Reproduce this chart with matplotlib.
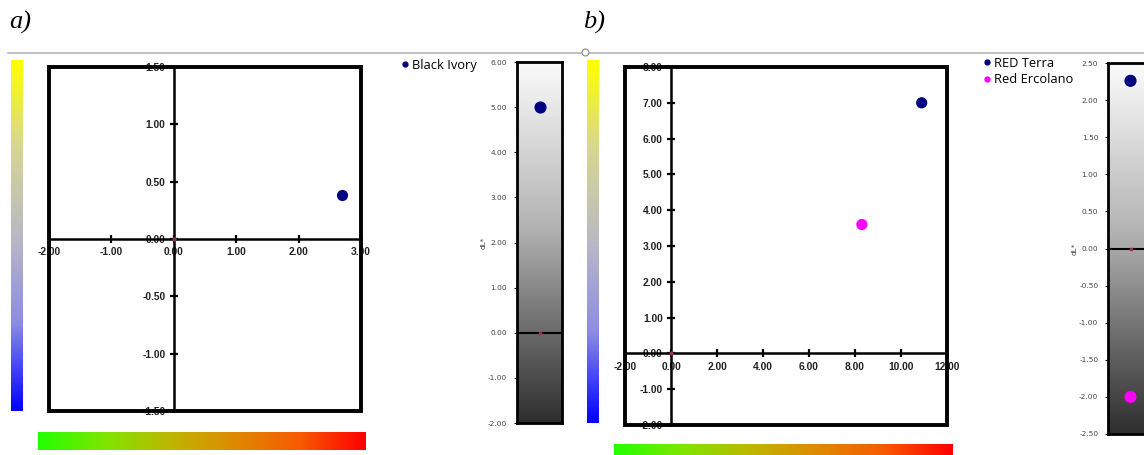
import numpy as np
import matplotlib
matplotlib.use('Agg')
import matplotlib.pyplot as plt
from matplotlib.colors import LinearSegmentedColormap
from matplotlib.patches import Rectangle
from matplotlib.lines import Line2D

# ---------------- data ----------------
# panel a
a_series = ['Black Ivory']
a_da = [2.70]
a_db = [0.38]
a_dL = [5.0]
a_colors = ['#000080']
a_xticks = [-2.0, -1.0, 0.0, 1.0, 2.0, 3.0]
a_yticks = [-1.5, -1.0, -0.5, 0.0, 0.5, 1.0, 1.5]
a_Lticks = [-2.0, -1.0, 0.0, 1.0, 2.0, 3.0, 4.0, 5.0, 6.0]

# panel b
b_series = ['RED Terra', 'Red Ercolano']
b_da = [10.9, 8.3]
b_db = [7.0, 3.6]
b_dL = [2.26, -2.0]
b_colors = ['#000080', '#FF00FF']
b_xticks = [-2.0, 0.0, 2.0, 4.0, 6.0, 8.0, 10.0, 12.0]
b_yticks = [-2.0, -1.0, 0.0, 1.0, 2.0, 3.0, 4.0, 5.0, 6.0, 7.0, 8.0]
b_Lticks = [-2.5, -2.0, -1.5, -1.0, -0.5, 0.0, 0.5, 1.0, 1.5, 2.0, 2.5]

panel_labels = ['a)', 'b)']

# ---------------- figure ----------------
W, H = 1144, 455
fig = plt.figure(figsize=(W / 100, H / 100), dpi=100)
fig.patch.set_facecolor('white')


def ax_px(x0, y0, x1, y1):
    return fig.add_axes([x0 / W, 1 - y1 / H, (x1 - x0) / W, (y1 - y0) / H])


def main_axes(rect, da, db, colors, xt, yt):
    ax = ax_px(*rect)
    ax.set_xlim(xt[0], xt[-1])
    ax.set_ylim(yt[0], yt[-1])
    for s in ['top', 'right']:
        ax.spines[s].set_visible(False)
    ax.spines['left'].set_position(('data', 0))
    ax.spines['bottom'].set_position(('data', 0))
    ax.spines['left'].set_linewidth(1.8)
    ax.spines['bottom'].set_linewidth(1.8)
    ax.add_patch(Rectangle((0, 0), 1, 1, transform=ax.transAxes, fill=False,
                           lw=2.8, ec='black', clip_on=False, zorder=5))
    ax.set_xticks(xt)
    ax.set_yticks(yt)
    ax.set_xticklabels([f'{v:.2f}' for v in xt])
    ax.set_yticklabels([f'{v:.2f}' for v in yt])
    ax.tick_params(direction='inout', length=6, width=1.6, labelsize=7.4, pad=3)
    for lab in ax.get_xticklabels() + ax.get_yticklabels():
        lab.set_fontweight('bold')
        lab.set_family('Liberation Sans')
        lab.set_color('#222222')
    ax.scatter(da, db, c=colors, s=50, zorder=6)
    ax.plot(0, 0, 'o', ms=2, color='#a0304a', zorder=7)
    return ax


def grad_bar(rect, cols, vertical):
    ax = ax_px(*rect)
    cmap = LinearSegmentedColormap.from_list('g', cols)
    g = np.linspace(0, 1, 256)
    arr = g[:, None] if vertical else g[None, :]
    ax.imshow(arr, cmap=cmap, aspect='auto', origin='lower')
    ax.axis('off')
    return ax


def L_axes(rect, vals, colors, ticks):
    ax = ax_px(*rect)
    ax.set_xlim(0, 1)
    ax.set_ylim(ticks[0], ticks[-1])
    cmap = LinearSegmentedColormap.from_list(
        'L', [(0.0, '#2e2e2e'), (0.3, '#767676'), (0.55, '#b4b4b4'), (1.0, '#fbfbfb')])
    ax.imshow(np.linspace(0, 1, 256)[:, None], cmap=cmap, aspect='auto', origin='lower',
              extent=[0, 1, ticks[0], ticks[-1]], zorder=0)
    ax.axhline(0, color='black', lw=1.5, zorder=2)
    ax.scatter([0.5] * len(vals), vals, c=colors, s=60, zorder=5, clip_on=False)
    ax.plot(0.5, 0, 'o', ms=1.6, color='#a0304a', zorder=6)
    ax.set_xticks([])
    ax.set_yticks(ticks)
    ax.set_yticklabels([f'{v:.2f}' for v in ticks])
    ax.tick_params(axis='y', length=2, width=0.8, labelsize=5.3, labelcolor='#444444', pad=5)
    for s in ax.spines.values():
        s.set_linewidth(2)
    ax.set_ylabel('dL*', fontsize=5.3, color='#444444', labelpad=1)
    return ax


side_cols = ['#0000ff', '#8c8ce6', '#b9b9c4', '#d6d694', '#ffff00']
bottom_cols = ['#22ff00', '#7ee600', '#bdb700', '#de8a00', '#f75a00', '#ff0000']

# panel a
grad_bar((11, 60, 23, 411), side_cols, True)
main_axes((49, 67, 361, 411), a_da, a_db, a_colors, a_xticks, a_yticks)
grad_bar((38, 432, 366, 450), bottom_cols, False)
La = L_axes((517, 62, 562, 423), a_dL, a_colors, a_Lticks)

# panel b
grad_bar((587, 60, 599, 423), side_cols, True)
main_axes((625, 67, 947, 425), b_da, b_db, b_colors, b_xticks, b_yticks)
grad_bar((614, 444, 953, 460), bottom_cols, False)
Lb = L_axes((1108, 63, 1153, 434), b_dL, b_colors, b_Lticks)

# legends
for names, cols, (lx, ly) in [(a_series, a_colors, (401, 59)), (b_series, b_colors, (983, 57))]:
    handles = [Line2D([], [], ls='none', marker='o', ms=3.5, color=c) for c in cols]
    fig.legend(handles, names, loc='upper left', bbox_to_anchor=(lx / W, 1 - ly / H),
               frameon=False, handlelength=0.6, handletextpad=0.25, borderpad=0,
               borderaxespad=0, labelspacing=0.25,
               prop={'family': 'Open Sans', 'size': 9.3})

# panel labels and separator
fig.text(9 / W, 1 - 22 / H, panel_labels[0], fontsize=19, style='italic',
         family='Liberation Serif', va='center', ha='left')
fig.text(583 / W, 1 - 22 / H, panel_labels[1], fontsize=19, style='italic',
         family='Liberation Serif', va='center', ha='left')
fig.add_artist(Line2D([8 / W, 1], [1 - 53 / H] * 2, color='#b4b4b4', lw=1.2))
fig.add_artist(Line2D([585 / W], [1 - 52 / H], ls='none', marker='o', ms=5,
                      mfc='white', mec='#888888', mew=0.8))

fig.savefig('out.png', dpi=100)
